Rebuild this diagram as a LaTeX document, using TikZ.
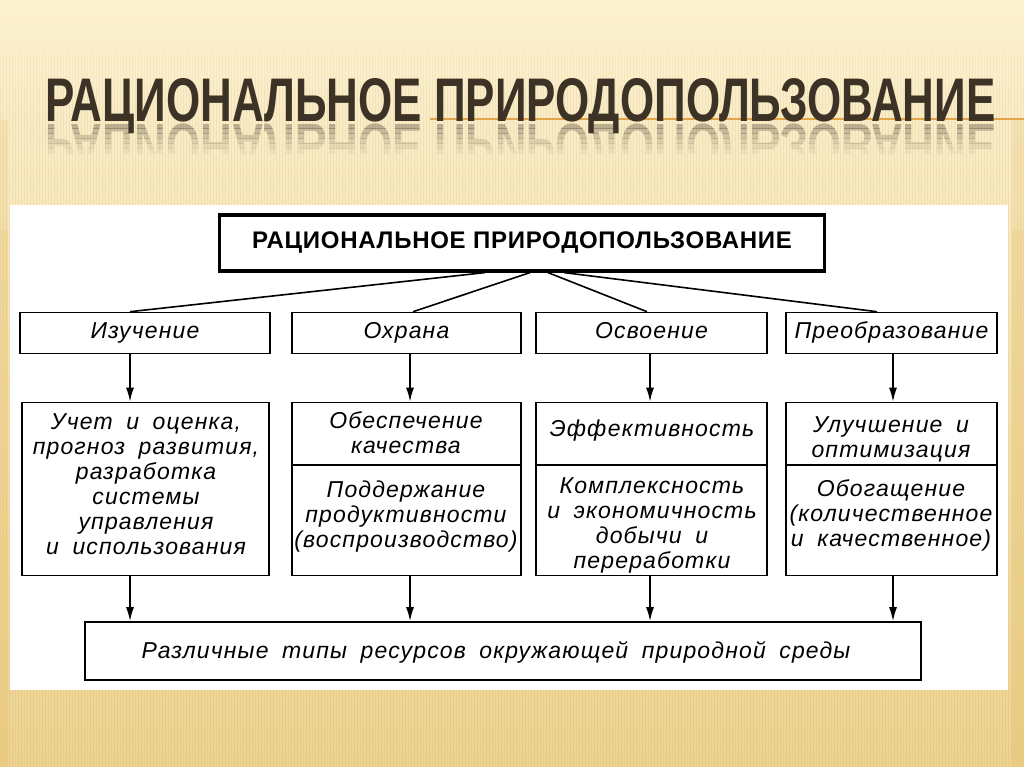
\documentclass[tikz,border=0pt]{standalone}
\usepackage{fontspec}
\setmainfont{Liberation Sans}
\newfontfamily\titlefont{Liberation Sans}
\newfontfamily\headfont[LetterSpace=3]{Liberation Sans}
\newfontfamily\diagfont[LetterSpace=5,WordSpace=1.8]{Liberation Sans}
\usetikzlibrary{positioning, arrows.meta}
\definecolor{paper}{HTML}{FCF1CF}
\definecolor{sand}{HTML}{EDD38F}
\definecolor{edgegold}{HTML}{E8C677}
\definecolor{titlegray}{HTML}{3D3226}
\definecolor{rulecol}{HTML}{E2A54C}

\begin{document}
\begin{tikzpicture}[x=1pt, y=-1pt,
		every edge/.style = {draw=black, line width=1.6pt},
		topbx/.style = {draw, line width=3.2pt, minimum width=605pt,
			minimum height=56pt, inner sep=0pt,
			font=\headfont\bfseries\fontsize{24}{28}\selectfont},
		catbx/.style = {draw, line width=1.6pt, minimum height=41pt, inner sep=0pt,
			text height=15pt, text depth=5pt,
			font=\diagfont\itshape\fontsize{23}{25}\selectfont},
		infobx/.style = {draw, line width=1.6pt, minimum height=173pt, inner sep=0pt},
		txt/.style = {font=\diagfont\itshape\fontsize{23}{25}\selectfont,
			align=center, inner sep=0pt},
		arr/.style = {-{Latex[length=14pt, width=8pt]}},
		stripe/.style = {draw=brown!70!black, line width=0.8pt}
	]
	\useasboundingbox (0,0) rectangle (1024,767);
	% background
	\fill[top color=paper, bottom color=sand] (0,0) rectangle (1024,767);
	\foreach \s in {0,3,...,1030} {
		\draw[stripe, opacity=0.02] (\s,20) -- (\s,50);
		\draw[stripe, opacity=0.045] (\s,50) -- (\s,85);
		\draw[stripe, opacity=0.07] (\s,85) -- (\s,767);
	}
	\fill[edgegold, opacity=0.25] (0,120) rectangle (8,767);
	\fill[edgegold, opacity=0.25] (1012,120) rectangle (1024,767);
	\fill[edgegold, opacity=0.25] (0,230) rectangle (8,767);
	\fill[edgegold, opacity=0.25] (1012,230) rectangle (1024,767);
	\draw[rulecol, line width=2.2pt] (430,119) -- (1024,119);
	% title and its reflection
	\node(title) [anchor=base west, inner sep=0pt, text=titlegray] at (45,122)
		{\resizebox{950pt}{43pt}{\titlefont\bfseries РАЦИОНАЛЬНОЕ ПРИРОДОПОЛЬЗОВАНИЕ}};
	\foreach \k/\op in {0/0.32, 1/0.26, 2/0.20, 3/0.14, 4/0.09, 5/0.05} {
		\begin{scope}
			\clip (0,124+5*\k) rectangle (1024,129+5*\k);
			\node [anchor=base west, inner sep=0pt, text=titlegray, opacity=\op,
				yscale=-1, transform shape] at (45,125)
				{\resizebox{950pt}{43pt}{\titlefont\bfseries РАЦИОНАЛЬНОЕ ПРИРОДОПОЛЬЗОВАНИЕ}};
		\end{scope}
	}
	% white sheet
	\fill[white] (10,205) rectangle (1008,690);

	\node(head) [topbx] at (522,243) {РАЦИОНАЛЬНОЕ ПРИРОДОПОЛЬЗОВАНИЕ};

	\node(iz)  [catbx, minimum width=250pt] at (145,333)   {Изучение};
	\node(oh)  [catbx, minimum width=229pt] at (406.5,333) {Охрана};
	\node(os)  [catbx, minimum width=231pt] at (651.5,333) {Освоение};
	\node(pre) [catbx, minimum width=211pt] at (891.5,333) {Преобразование};

	\node(uch) [infobx, minimum width=247pt] at (145.5,489) {};
	\node(obe) [infobx, minimum width=229pt] at (406.5,489) {};
	\node(eff) [infobx, minimum width=231pt] at (651.5,489) {};
	\node(ulu) [infobx, minimum width=211pt] at (891.5,489) {};

	\node(res) [catbx, minimum width=836pt, minimum height=58pt] at (503,651) {};

	% dividers
	\coordinate (mid) at (0,465);
	\draw[line width=1.6pt] (obe.west |- mid) -- (obe.east |- mid);
	\draw[line width=1.6pt] (eff.west |- mid) -- (eff.east |- mid);
	\draw[line width=1.6pt] (ulu.west |- mid) -- (ulu.east |- mid);

	% texts
	\node(t1)  [txt] at (146,484) {Учет и оценка,\\прогноз развития,\\разработка\\системы\\управления\\и использования};
	\node(t2a) [txt] at (406,433) {Обеспечение\\качества};
	\node(t2b) [txt] at (406,517) {Поддержание\\продуктивности\\(воспроизводство)};
	\node(t3a) [txt] at (652,431) {Эффективность};
	\node(t3b) [txt] at (652,525) {Комплексность\\и экономичность\\добычи и\\переработки};
	\node(t4a) [txt] at (891,439) {Улучшение и\\оптимизация};
	\node(t4b) [txt] at (891,515) {Обогащение\\(количественное\\и качественное)};
	\node(t5)  [txt] at (496,652) {Различные типы ресурсов окружающей природной среды};

	% fan from the head box
	\path ([xshift=-37pt]head.south) edge ([xshift=-15pt]iz.north);
	\path ([xshift=8pt]head.south)   edge ([xshift=6.5pt]oh.north);
	\path ([xshift=26pt]head.south)  edge ([xshift=-4.5pt]os.north);
	\path ([xshift=42pt]head.south)  edge ([xshift=-14.5pt]pre.north);

	% arrow columns
	\coordinate (c1) at (130,0);
	\coordinate (c2) at (410,0);
	\coordinate (c3) at (650,0);
	\coordinate (c4) at (893,0);
	\path (iz.south -| c1)  edge[arr] (uch.north -| c1);
	\path (oh.south -| c2)  edge[arr] (obe.north -| c2);
	\path (os.south -| c3)  edge[arr] (eff.north -| c3);
	\path (pre.south -| c4) edge[arr] (ulu.north -| c4);
	\path (uch.south -| c1) edge[arr] (res.north -| c1);
	\path (obe.south -| c2) edge[arr] (res.north -| c2);
	\path (eff.south -| c3) edge[arr] (res.north -| c3);
	\path (ulu.south -| c4) edge[arr] (res.north -| c4);
\end{tikzpicture}
\end{document}
